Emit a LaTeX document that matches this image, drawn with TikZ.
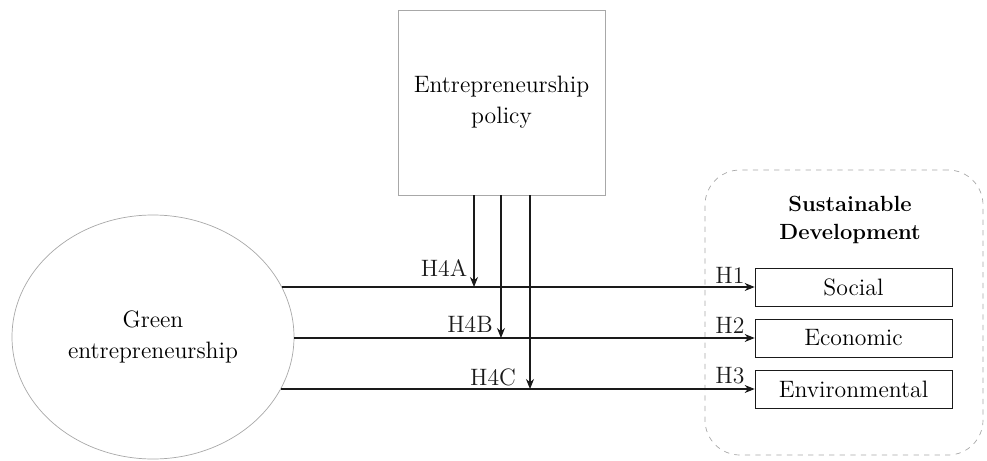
\documentclass[tikz,border=0pt]{standalone}
\usetikzlibrary{arrows.meta, positioning, shapes.geometric}
\definecolor{frame}{HTML}{A8A8A8}
\definecolor{ink}{HTML}{1A1A1A}
\tikzset{
  box/.style={draw=ink, fill=white, minimum width=39.4mm, minimum height=7.6mm,
              inner sep=2pt, font=\fontsize{13.5}{16.5}\selectfont},
  flow/.style={-{Stealth[length=2mm,width=1.6mm]}, semithick, color=ink},
  lbl/.style={font=\fontsize{13.5}{16.5}\selectfont, inner sep=1pt, text=ink},
}
\begin{document}
\begin{tikzpicture}[
        con/.style={draw=frame, align=center, font=\fontsize{13.5}{17.5}\selectfont},
        grp/.style={draw=frame, dashed, rounded corners=7mm}]
        \useasboundingbox (0,0) rectangle (19.74,9.2);
        \node[con,ellipse,minimum width=56.4mm,minimum height=48.8mm] (green) at (3.06,2.46) {Green\\entrepreneurship};
        \node[con,minimum width=41.4mm,minimum height=37mm] (policy) at (10.03,7.15) {Entrepreneurship\\policy};
        \node[grp,minimum width=55.6mm,minimum height=57mm] (sd) at (16.88,2.95) {};
        \node[font=\fontsize{12.5}{16}\selectfont\bfseries,align=center] (sdtitle) at (17.0,4.8) {Sustainable\\Development};
        \node[box] (social) at (17.07,3.46) {Social};
        \node[box] (econ) at (17.07,2.44) {Economic};
        \node[box] (env) at (17.07,1.42) {Environmental};
        % direct effects
        \draw[flow] (green.21 |- social) -- (social.west);
        \draw[flow] (green.east |- econ) -- (econ.west);
        \draw[flow] (green.-22 |- env) -- (env.west);
        \node[lbl] (h1) at (14.6,3.70) {H1};
        \node[lbl] (h2) at (14.6,2.69) {H2};
        \node[lbl] (h3) at (14.6,1.68) {H3};
        % moderation by policy
        \draw[flow] ([xshift=-5.5mm]policy.south) -- ([xshift=-5.5mm]policy.south |- social);
        \draw[flow] ([xshift=-0.3pt]policy.south) -- ([xshift=-0.3pt]policy.south |- econ);
        \draw[flow] ([xshift=5.7mm]policy.south) -- ([xshift=5.7mm]policy.south |- env);
        \node[lbl] (h4a) at (8.88,3.84) {H4A};
        \node[lbl] (h4b) at (9.40,2.72) {H4B};
        \node[lbl] (h4c) at (9.86,1.66) {H4C};
      \end{tikzpicture}
\end{document}
